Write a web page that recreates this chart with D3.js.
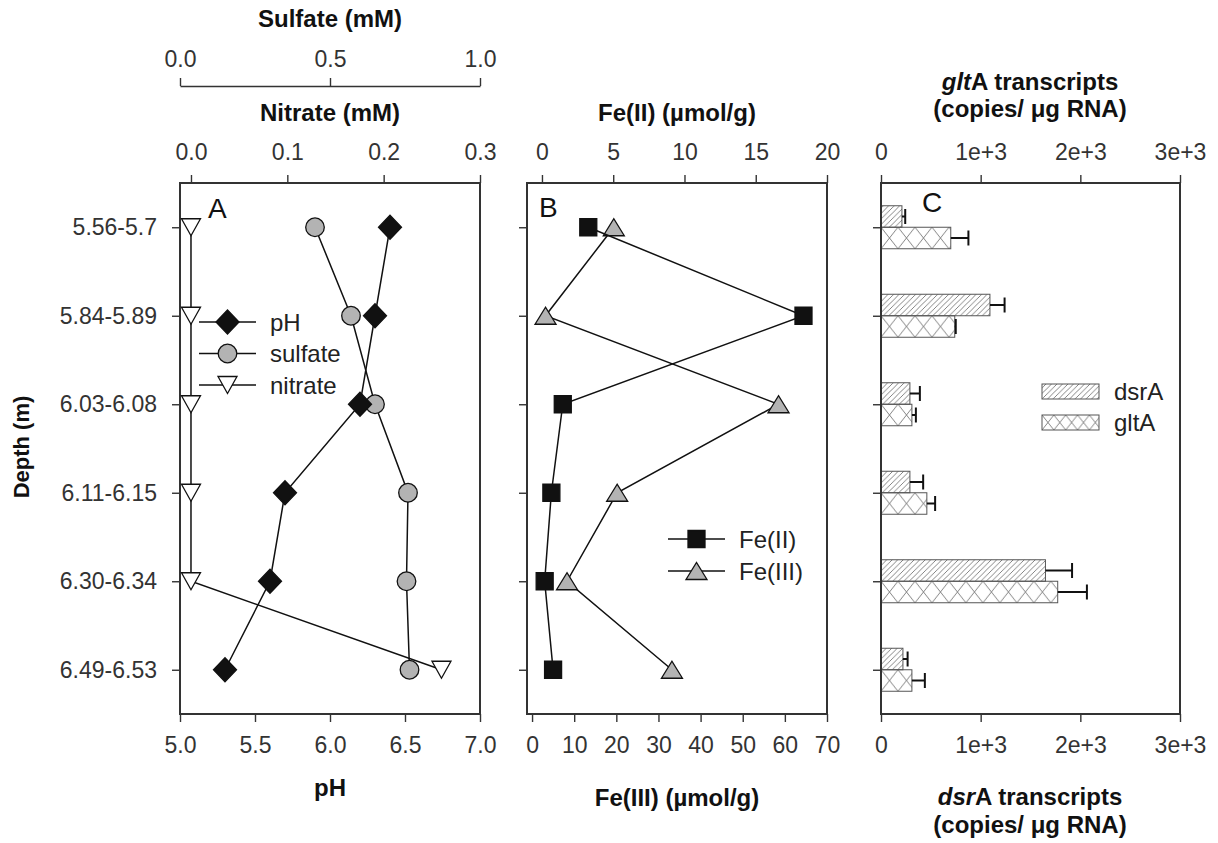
<!DOCTYPE html>
<html>
<head>
<meta charset="utf-8">
<script src="https://cdn.jsdelivr.net/npm/d3@7"></script>
<style>
  body { margin: 0; background: #fff; }
  svg text { font-family: "Liberation Sans", Arial, sans-serif; }
</style>
</head>
<body>
<svg id="chart" width="1218" height="843"></svg>
<script>
// ---- data -------------------------------------------------------------
const depths   = ["5.56-5.7", "5.84-5.89", "6.03-6.08", "6.11-6.15", "6.30-6.34", "6.49-6.53"];
const pH       = [6.4, 6.3, 6.2, 5.7, 5.6, 5.3];
const sulfate  = [0.45, 0.57, 0.65, 0.76, 0.755, 0.765];   // mM
const nitrate  = [0, 0, 0, 0, 0, 0.26];                     // mM
const fe2      = [3.25, 18.35, 1.46, 0.66, 0.19, 0.78];     // µmol/g
const fe3      = [19.4, 3.2, 58.5, 20.2, 8.3, 33.2];        // µmol/g
const dsrA     = [210, 1093, 290, 290, 1650, 220];          // copies/µg RNA
const dsrAErr  = [33, 147, 100, 133, 267, 47];
const gltA     = [700, 740, 310, 460, 1773, 310];
const gltAErr  = [177, 10, 40, 83, 293, 130];

const pHTicks        = [5, 5.5, 6, 6.5, 7];
const sulfateTicks   = [0, 0.5, 1];
const nitrateTicks   = [0, 0.1, 0.2, 0.3];
const fe2Ticks       = [0, 5, 10, 15, 20];
const fe3Ticks       = [0, 10, 20, 30, 40, 50, 60, 70];
const copyTicks      = [0, 1000, 2000, 3000];
const copyTickLabels = ["0", "1e+3", "2e+3", "3e+3"];

// ---- layout -----------------------------------------------------------
const svg = d3.select("#chart");
const plotTop = 183, plotBottom = 714;
const panelA = [180, 480], panelB = [527, 827], panelC = [881, 1180];
const INK = "#222", AXIS = "#333";
const tickFont = "23px 'Liberation Sans', Arial, sans-serif";
const titleSize = 24;

const y = d3.scalePoint().domain(depths).range([plotTop, plotBottom]).padding(0.5);

const xPH      = d3.scaleLinear().domain([5, 7]).range(panelA);
const xSulfate = d3.scaleLinear().domain([0, 1]).range(panelA);
const xNitrate = d3.scaleLinear().domain([-0.0114, 0.3]).range(panelA);
const xFe2     = d3.scaleLinear().domain([-1.05, 20]).range(panelB);
const xFe3     = d3.scaleLinear().domain([-1.2, 70]).range(panelB);
const xCopies  = d3.scaleLinear().domain([0, 3000]).range(panelC);

function styleAxis(g, keepDomain) {
  if (!keepDomain) g.select(".domain").remove();
  else g.select(".domain").attr("stroke", AXIS).attr("stroke-width", 1.4);
  g.selectAll(".tick line").attr("stroke", AXIS).attr("stroke-width", 1.4);
  g.selectAll(".tick text").attr("fill", "#333").style("font", tickFont);
}

function title(x, yPos, txt, size) {
  return svg.append("text")
    .attr("x", x).attr("y", yPos)
    .attr("text-anchor", "middle")
    .attr("fill", "#111")
    .style("font-weight", "bold")
    .style("font-size", (size || titleSize) + "px")
    .text(txt);
}

// ---- hatch patterns ---------------------------------------------------
const defs = svg.append("defs");
defs.append("pattern")
  .attr("id", "diag")
  .attr("patternUnits", "userSpaceOnUse")
  .attr("width", 5.5).attr("height", 5.5)
  .append("path")
  .attr("d", "M0,5.5 L5.5,0 M-1,1 L1,-1 M4.5,6.5 L6.5,4.5")
  .attr("stroke", "#777").attr("stroke-width", 0.9);

let crossId = 0;
function crossPattern(x0, y0, h) {
  const id = "cross" + (crossId++);
  const w = h * 0.79;
  const p = defs.append("pattern")
    .attr("id", id)
    .attr("patternUnits", "userSpaceOnUse")
    .attr("x", x0).attr("y", y0)
    .attr("width", w).attr("height", h);
  p.append("path")
    .attr("d", `M0,0 L${w},${h} M${w},0 L0,${h}`)
    .attr("stroke", "#777").attr("stroke-width", 0.9).attr("fill", "none");
  return "url(#" + id + ")";
}

// ---- marker shapes ----------------------------------------------------
const shape = {
  diamond: (cx, cy) => `M${cx},${cy - 12}L${cx + 11.5},${cy}L${cx},${cy + 12}L${cx - 11.5},${cy}Z`,
  triDown: (cx, cy) => `M${cx - 9.5},${cy - 8.5}L${cx + 9.5},${cy - 8.5}L${cx},${cy + 8.5}Z`,
  triUp:   (cx, cy) => `M${cx - 10.5},${cy + 8.5}L${cx + 10.5},${cy + 8.5}L${cx},${cy - 8.5}Z`,
  square:  (cx, cy) => `M${cx - 8.5},${cy - 8.5}h17v17h-17Z`
};

function series(values, xs, kind, fill) {
  const pts = values.map((v, i) => [xs(v), y(depths[i])]);
  svg.append("path")
    .attr("d", d3.line()(pts))
    .attr("fill", "none").attr("stroke", "#111").attr("stroke-width", 1.5);
  if (kind === "circle") {
    svg.append("g").selectAll("circle").data(pts).join("circle")
      .attr("cx", d => d[0]).attr("cy", d => d[1]).attr("r", 9.3)
      .attr("fill", fill).attr("stroke", "#111").attr("stroke-width", 1.3);
  } else {
    svg.append("g").selectAll("path").data(pts).join("path")
      .attr("d", d => shape[kind](d[0], d[1]))
      .attr("fill", fill).attr("stroke", "#111").attr("stroke-width", 1.3);
  }
}

function legendRow(x0, x1, cy, kind, fill, label) {
  svg.append("line").attr("x1", x0).attr("x2", x1).attr("y1", cy).attr("y2", cy)
    .attr("stroke", "#111").attr("stroke-width", 1.5);
  const cx = (x0 + x1) / 2;
  if (kind === "circle") {
    svg.append("circle").attr("cx", cx).attr("cy", cy).attr("r", 9.3)
      .attr("fill", fill).attr("stroke", "#111").attr("stroke-width", 1.3);
  } else {
    svg.append("path").attr("d", shape[kind](cx, cy))
      .attr("fill", fill).attr("stroke", "#111").attr("stroke-width", 1.3);
  }
  svg.append("text").attr("x", x1 + 14).attr("y", cy + 8.5)
    .attr("fill", INK).style("font-size", "24px").text(label);
}

function panelBox(range) {
  svg.append("rect")
    .attr("x", range[0]).attr("y", plotTop)
    .attr("width", range[1] - range[0]).attr("height", plotBottom - plotTop)
    .attr("fill", "none").attr("stroke", AXIS).attr("stroke-width", 2);
}

// ======================= Panel A ======================================
svg.append("g").attr("transform", `translate(${panelA[0]},0)`)
  .call(d3.axisLeft(y).tickSize(8).tickPadding(15))
  .call(g => styleAxis(g));

svg.append("g").attr("transform", `translate(0,${plotBottom})`)
  .call(d3.axisBottom(xPH).tickValues(pHTicks).tickFormat(d3.format(".1f")).tickSize(8).tickPadding(15))
  .call(g => styleAxis(g));

svg.append("g").attr("transform", `translate(0,${plotTop})`)
  .call(d3.axisTop(xNitrate).tickValues(nitrateTicks).tickFormat(d3.format(".1f")).tickSize(8).tickPadding(15))
  .call(g => styleAxis(g));

svg.append("g").attr("transform", "translate(0,86)")
  .call(d3.axisTop(xSulfate).tickValues(sulfateTicks).tickFormat(d3.format(".1f")).tickSize(8).tickSizeOuter(0).tickPadding(11))
  .call(g => styleAxis(g, true));

title(330, 27, "Sulfate (mM)");
title(330, 121, "Nitrate (mM)");
title(330, 796, "pH");
svg.append("text")
  .attr("transform", "translate(29,447) rotate(-90)")
  .attr("text-anchor", "middle").attr("fill", "#111")
  .style("font-weight", "bold").style("font-size", "22px")
  .text("Depth (m)");

panelBox(panelA);
series(nitrate, xNitrate, "triDown", "#fff");
series(sulfate, xSulfate, "circle", "#b3b3b3");
series(pH, xPH, "diamond", "#111");

svg.append("text").attr("x", 208).attr("y", 218).attr("fill", "#111")
  .style("font-size", "28px").text("A");

legendRow(199, 256, 322, "diamond", "#111", "pH");
legendRow(199, 256, 353.5, "circle", "#b3b3b3", "sulfate");
legendRow(199, 256, 385, "triDown", "#fff", "nitrate");

// ======================= Panel B ======================================
svg.append("g").attr("transform", `translate(${panelB[0]},0)`)
  .call(d3.axisLeft(y).tickSize(8).tickFormat(""))
  .call(g => styleAxis(g));

svg.append("g").attr("transform", `translate(0,${plotTop})`)
  .call(d3.axisTop(xFe2).tickValues(fe2Ticks).tickFormat(d3.format("d")).tickSize(8).tickPadding(15))
  .call(g => styleAxis(g));

svg.append("g").attr("transform", `translate(0,${plotBottom})`)
  .call(d3.axisBottom(xFe3).tickValues(fe3Ticks).tickFormat(d3.format("d")).tickSize(8).tickPadding(15))
  .call(g => styleAxis(g));

title(677, 121, "Fe(II) (µmol/g)");
title(677, 806, "Fe(III) (µmol/g)");

panelBox(panelB);
series(fe3, xFe3, "triUp", "#b3b3b3");
series(fe2, xFe2, "square", "#111");

svg.append("text").attr("x", 539).attr("y", 217).attr("fill", "#111")
  .style("font-size", "28px").text("B");

legendRow(668, 725, 539, "square", "#111", "Fe(II)");
legendRow(668, 725, 571, "triUp", "#b3b3b3", "Fe(III)");

// ======================= Panel C ======================================
svg.append("g").attr("transform", `translate(${panelC[0]},0)`)
  .call(d3.axisLeft(y).tickSize(8).tickFormat(""))
  .call(g => styleAxis(g));

svg.append("g").attr("transform", `translate(0,${plotTop})`)
  .call(d3.axisTop(xCopies).tickValues(copyTicks).tickFormat((d, i) => copyTickLabels[i]).tickSize(8).tickPadding(15))
  .call(g => styleAxis(g));

svg.append("g").attr("transform", `translate(0,${plotBottom})`)
  .call(d3.axisBottom(xCopies).tickValues(copyTicks).tickFormat((d, i) => copyTickLabels[i]).tickSize(8).tickPadding(15))
  .call(g => styleAxis(g));

const topTitle = svg.append("text").attr("x", 1030).attr("y", 90)
  .attr("text-anchor", "middle").attr("fill", "#111")
  .style("font-weight", "bold").style("font-size", titleSize + "px");
topTitle.append("tspan").style("font-style", "italic").text("glt");
topTitle.append("tspan").text("A transcripts");
title(1030, 117, "(copies/ μg RNA)");

const botTitle = svg.append("text").attr("x", 1030).attr("y", 805)
  .attr("text-anchor", "middle").attr("fill", "#111")
  .style("font-weight", "bold").style("font-size", titleSize + "px");
botTitle.append("tspan").style("font-style", "italic").text("dsr");
botTitle.append("tspan").text("A transcripts");
title(1030, 833, "(copies/ μg RNA)");

const barH = 21.5, capH = 15;
const bars = svg.append("g");
depths.forEach((d, i) => {
  const cy = y(d);
  const x0 = xCopies(0);
  // dsrA bar (upper)
  bars.append("rect")
    .attr("x", x0).attr("y", cy - barH)
    .attr("width", xCopies(dsrA[i]) - x0).attr("height", barH)
    .attr("fill", "url(#diag)").attr("stroke", "#555").attr("stroke-width", 1);
  // gltA bar (lower)
  bars.append("rect")
    .attr("x", x0).attr("y", cy)
    .attr("width", xCopies(gltA[i]) - x0).attr("height", barH)
    .attr("fill", crossPattern(x0, cy, barH)).attr("stroke", "#555").attr("stroke-width", 1);
  // error bars
  [[dsrA[i], dsrAErr[i], cy - barH / 2], [gltA[i], gltAErr[i], cy + barH / 2]].forEach(([v, e, by]) => {
    bars.append("line")
      .attr("x1", xCopies(v)).attr("x2", xCopies(v + e)).attr("y1", by).attr("y2", by)
      .attr("stroke", "#111").attr("stroke-width", 2);
    bars.append("line")
      .attr("x1", xCopies(v + e)).attr("x2", xCopies(v + e))
      .attr("y1", by - capH / 2).attr("y2", by + capH / 2)
      .attr("stroke", "#111").attr("stroke-width", 2);
  });
});

panelBox(panelC);

svg.append("text").attr("x", 922).attr("y", 212).attr("fill", "#111")
  .style("font-size", "28px").text("C");

// legend
const legC = [
  { label: "dsrA", y0: 384, fill: "url(#diag)" },
  { label: "gltA", y0: 415, fill: null }
];
legC.forEach(l => {
  svg.append("rect").attr("x", 1042).attr("y", l.y0).attr("width", 57).attr("height", 15)
    .attr("fill", l.fill || crossPattern(1042, l.y0, 15))
    .attr("stroke", "#555").attr("stroke-width", 1);
  svg.append("text").attr("x", 1114).attr("y", l.y0 + 16)
    .attr("fill", INK).style("font-size", "24px").text(l.label);
});
</script>
</body>
</html>
